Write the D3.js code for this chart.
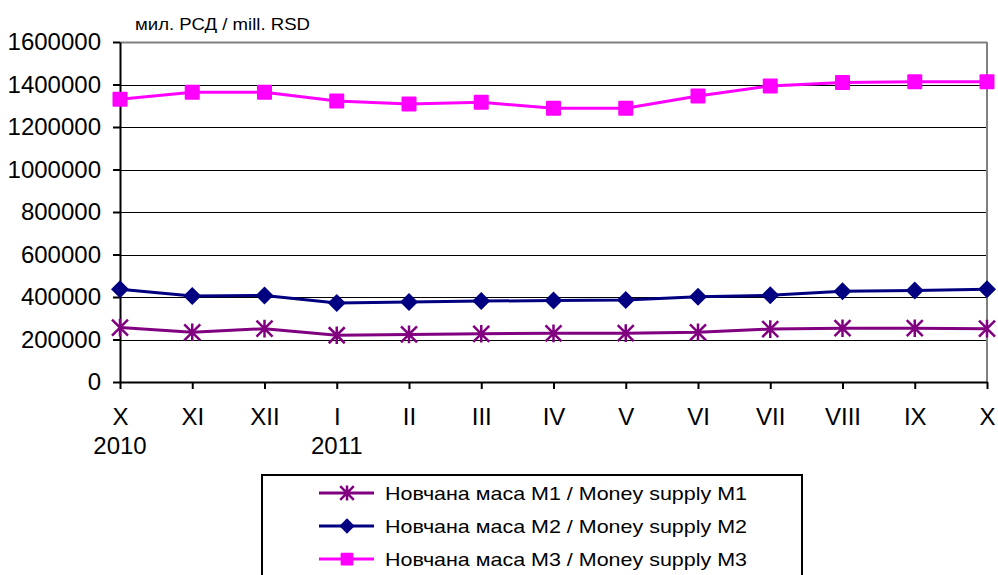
<!DOCTYPE html>
<html><head><meta charset="utf-8">
<script src="https://cdn.jsdelivr.net/npm/d3@7"></script>
<style>body{margin:0;background:#fff}svg{display:block;font-family:"Liberation Sans",Arial,sans-serif}</style>
</head><body>
<svg id="c" width="998" height="575"></svg>
<script>
const months = ["X","XI","XII","I","II","III","IV","V","VI","VII","VIII","IX","X"];
const years = ["2010","","","2011","","","","","","","","",""];
const m1 = [256000,234000,251000,220000,224000,227000,229000,230000,234000,249000,253000,253000,251000];
const m2 = [436000,405000,407000,372000,376000,381000,383000,386000,401000,408000,427000,431000,436000];
const m3 = [1331000,1363000,1363000,1322000,1308000,1316000,1288000,1288000,1346000,1393000,1409000,1413000,1413000];
const yTicks = [0,200000,400000,600000,800000,1000000,1200000,1400000,1600000];
const seriesNames = ["Новчана маса M1 / Money supply M1","Новчана маса M2 / Money supply M2","Новчана маса M3 / Money supply M3"];
const colors = ["#800080","#000080","#FF00FF"];
const unitLabel = "мил. РСД / mill. RSD";

const svg = d3.select("#c");
const L=120, R=987, T=42, B=382;
const idx = d3.range(months.length);
const x = d3.scalePoint().domain(idx).range([L,R]);
const y = d3.scaleLinear().domain([0,1600000]).range([B,T]);

// gridlines
svg.append("g").selectAll("line").data(yTicks.filter(v=>v>0 && v<1600000)).join("line")
  .attr("x1",L).attr("x2",R).attr("y1",d=>Math.round(y(d))+0.5).attr("y2",d=>Math.round(y(d))+0.5)
  .attr("stroke","#000").attr("stroke-width",1);
// top & right border
svg.append("line").attr("x1",L).attr("x2",R).attr("y1",T+0.5).attr("y2",T+0.5).attr("stroke","#808080").attr("stroke-width",2);
svg.append("line").attr("x1",R).attr("x2",R).attr("y1",T).attr("y2",B).attr("stroke","#808080").attr("stroke-width",2);

// y axis
const ya = svg.append("g").attr("transform",`translate(${L},0)`)
  .call(d3.axisLeft(y).tickValues(yTicks).tickFormat(d3.format("d")).tickSize(7).tickSizeOuter(0).tickPadding(12));
ya.select(".domain").attr("stroke","#000").attr("stroke-width",2);
ya.selectAll(".tick line").attr("stroke","#000").attr("stroke-width",2);
ya.selectAll("text").attr("font-size",24).attr("fill","#000").attr("font-family","Liberation Sans, Arial, sans-serif");

// x axis
const xa = svg.append("g").attr("transform",`translate(0,${B})`)
  .call(d3.axisBottom(x).tickFormat(i=>months[i]).tickSize(7).tickSizeOuter(0).tickPadding(19));
xa.select(".domain").attr("stroke","#000").attr("stroke-width",2);
xa.selectAll(".tick line").attr("stroke","#000").attr("stroke-width",2);
xa.selectAll("text").attr("font-size",24).attr("fill","#000").attr("font-family","Liberation Sans, Arial, sans-serif");
svg.append("g").selectAll("text").data(idx.filter(i=>years[i])).join("text")
  .attr("x",i=>x(i)).attr("y",454).attr("text-anchor","middle").attr("font-size",24).text(i=>years[i]);

svg.append("text").attr("x",135).attr("y",30).attr("font-size",17)
  .attr("textLength",175).attr("lengthAdjust","spacingAndGlyphs").text(unitLabel);

const data=[m1,m2,m3];
const line = d3.line().x((d,i)=>x(i)).y(d=>y(d));
function marker(g,k,cx,cy,sc){
  if(k===0){
    const s=8*sc;
    const p=`M${cx-s},${cy-s}L${cx+s},${cy+s}M${cx-s},${cy+s}L${cx+s},${cy-s}M${cx},${cy-s*1.1}L${cx},${cy+s*1.1}`;
    g.append("path").attr("d",p).attr("stroke",colors[0]).attr("stroke-width",2.5).attr("fill","none");
  } else if(k===1){
    const s=9*sc;
    g.append("path").attr("d",`M${cx},${cy-s}L${cx+s},${cy}L${cx},${cy+s}L${cx-s},${cy}Z`).attr("fill",colors[1]);
  } else {
    const s=7.5*sc;
    g.append("rect").attr("x",cx-s).attr("y",cy-s).attr("width",2*s).attr("height",2*s).attr("rx",1).attr("fill",colors[2]);
  }
}
data.forEach((arr,k)=>{
  svg.append("path").datum(arr).attr("d",line).attr("fill","none").attr("stroke",colors[k]).attr("stroke-width",3);
  const g=svg.append("g");
  arr.forEach((v,i)=>marker(g,k,x(i),y(v),1));
});

// legend
const lg = svg.append("g");
lg.append("rect").attr("x",262).attr("y",475).attr("width",540).attr("height",120).attr("fill","#fff").attr("stroke","#000").attr("stroke-width",2);
const rows=[493,526,559];
seriesNames.forEach((n,k)=>{
  lg.append("line").attr("x1",319).attr("x2",374).attr("y1",rows[k]).attr("y2",rows[k]).attr("stroke",colors[k]).attr("stroke-width",3);
  marker(lg,k,347,rows[k],0.85);
  lg.append("text").attr("x",385).attr("y",rows[k]+7).attr("font-size",19)
    .attr("textLength",362).attr("lengthAdjust","spacingAndGlyphs").text(n);
});
</script>
</body></html>
